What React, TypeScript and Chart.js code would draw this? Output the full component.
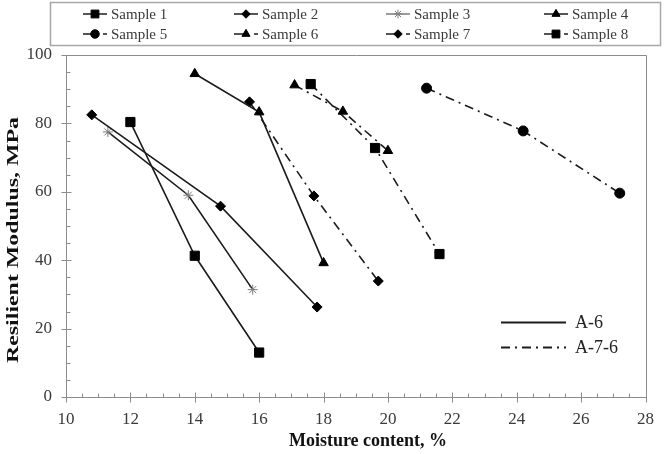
import React, { useEffect, useRef } from 'react';
import { Chart, registerables } from 'chart.js';
import { drawPoint } from 'chart.js/helpers';

Chart.register(...registerables);

// ---- data ----
const xMin = 10;
const xMax = 28;
const xStep = 2;
const yMin = 0;
const yMax = 100;
const yStep = 20;

const sampleNames = ['Sample 1', 'Sample 2', 'Sample 3', 'Sample 4', 'Sample 5', 'Sample 6', 'Sample 7', 'Sample 8'];
const soilClasses = ['A-6', 'A-7-6'];

const sample1X = [12.0, 14.0, 16.0];
const sample1Y = [80.4, 41.3, 13.0];
const sample2X = [10.8, 14.8, 17.8];
const sample2Y = [82.5, 55.8, 26.3];
const sample3X = [11.3, 13.8, 15.8];
const sample3Y = [77.5, 59.0, 31.4];
const sample4X = [14.0, 16.0, 18.0];
const sample4Y = [94.5, 83.3, 39.2];
const sample5X = [21.2, 24.2, 27.2];
const sample5Y = [90.3, 77.8, 59.6];
const sample6X = [17.1, 18.6, 20.0];
const sample6Y = [91.2, 83.5, 72.0];
const sample7X = [15.7, 17.7, 19.7];
const sample7Y = [86.3, 58.8, 33.9];
const sample8X = [17.6, 19.6, 21.6];
const sample8Y = [91.5, 72.8, 41.8];

const allX = [sample1X, sample2X, sample3X, sample4X, sample5X, sample6X, sample7X, sample8X];
const allY = [sample1Y, sample2Y, sample3Y, sample4Y, sample5Y, sample6Y, sample7Y, sample8Y];
const sampleClass = [0, 0, 0, 0, 1, 1, 1, 1];

// ---- styles ----
const FONT = '"Liberation Serif", "Times New Roman", serif';
const LINE = '#1c1c1c';
const AXIS = '#8c8c8c';
const TEXT = '#3a3a3a';
const DASHDOT = [9, 5, 2, 5];

const markerStyle = [
  { pointStyle: 'rect', radius: 6.5, color: '#000000' },
  { pointStyle: 'rectRot', radius: 5, color: '#000000' },
  { pointStyle: 'star', radius: 5, color: '#7a7a7a' },
  { pointStyle: 'triangle', radius: 5.5, color: '#000000' },
  { pointStyle: 'circle', radius: 5, color: '#000000' },
  { pointStyle: 'triangle', radius: 5.5, color: '#000000' },
  { pointStyle: 'rectRot', radius: 5, color: '#000000' },
  { pointStyle: 'rect', radius: 6.5, color: '#000000' },
];

const decorPlugin = {
  id: 'decor',
  beforeDatasetsDraw(chart: any) {
    const ctx = chart.ctx as CanvasRenderingContext2D;
    const { left, right, top, bottom } = chart.chartArea;
    const xs = chart.scales.x;
    const ys = chart.scales.y;
    ctx.save();
    ctx.strokeStyle = AXIS;
    ctx.lineWidth = 1;
    const L = Math.round(left) + 0.5;
    const R = Math.round(right) + 0.5;
    const T = Math.round(top) + 0.5;
    const B = Math.round(bottom) + 0.5;
    ctx.beginPath();
    ctx.rect(L, T, R - L, B - T);
    ctx.stroke();
    ctx.beginPath();
    for (let v = xMin; v <= xMax + 1e-9; v += 0.5) {
      const px = Math.round(xs.getPixelForValue(v)) + 0.5;
      const major = Math.abs(v / xStep - Math.round(v / xStep)) < 1e-6;
      if (major) {
        ctx.moveTo(px, B - 5);
        ctx.lineTo(px, B + 5);
      } else {
        ctx.moveTo(px, B - 4);
        ctx.lineTo(px, B);
      }
    }
    for (let v = yMin; v <= yMax + 1e-9; v += 5) {
      const py = Math.round(ys.getPixelForValue(v)) + 0.5;
      const major = Math.abs(v / yStep - Math.round(v / yStep)) < 1e-6;
      if (major) {
        ctx.moveTo(L - 5, py);
        ctx.lineTo(L + 5, py);
      } else {
        ctx.moveTo(L, py);
        ctx.lineTo(L + 4, py);
      }
    }
    ctx.stroke();
    ctx.restore();
  },
  afterDraw(chart: any) {
    const ctx = chart.ctx as CanvasRenderingContext2D;
    const { left, right, top, bottom } = chart.chartArea;
    ctx.save();

    // axis titles
    ctx.fillStyle = '#111111';
    ctx.font = 'bold 18px ' + FONT;
    ctx.textAlign = 'center';
    ctx.textBaseline = 'middle';
    ctx.fillText('Moisture content, %', 368, 441);

    ctx.save();
    ctx.font = 'bold 17px ' + FONT;
    const yt = 'Resilient Modulus, MPa';
    const w = ctx.measureText(yt).width;
    ctx.translate(14, 240);
    ctx.rotate(-Math.PI / 2);
    ctx.scale(246 / w, 1);
    ctx.fillText(yt, 0, 0);
    ctx.restore();

    // top legend box
    ctx.strokeStyle = '#a8a8a8';
    ctx.lineWidth = 1.5;
    ctx.strokeRect(50.5, 2.5, 610, 43);
    const colX = [95, 246, 398, 556];
    const rowY = [14, 34];
    ctx.font = '15px ' + FONT;
    ctx.textAlign = 'left';
    ctx.textBaseline = 'middle';
    for (let i = 0; i < sampleNames.length; i++) {
      const cx = colX[i % 4];
      const cy = rowY[Math.floor(i / 4)];
      const ms = markerStyle[i];
      ctx.strokeStyle = ms.color === '#000000' ? LINE : ms.color;
      ctx.lineWidth = 1.5;
      ctx.setLineDash([]);
      ctx.beginPath();
      ctx.moveTo(cx - 12, cy);
      if (sampleClass[i] === 0) {
        ctx.lineTo(cx + 12, cy);
      } else {
        ctx.lineTo(cx, cy);
        ctx.moveTo(cx + 8, cy);
        ctx.lineTo(cx + 12, cy);
      }
      ctx.stroke();
      ctx.fillStyle = ms.color;
      ctx.strokeStyle = ms.color;
      ctx.lineWidth = 1;
      drawPoint(ctx, { pointStyle: ms.pointStyle as any, radius: ms.radius * 0.85, rotation: 0, borderWidth: 1 }, cx, cy);
      ctx.fillStyle = TEXT;
      ctx.fillText(sampleNames[i], cx + 16, cy + 1);
    }

    // soil class legend
    ctx.strokeStyle = LINE;
    ctx.lineWidth = 1.8;
    ctx.setLineDash([]);
    ctx.beginPath();
    ctx.moveTo(501, 322.5);
    ctx.lineTo(566, 322.5);
    ctx.stroke();
    ctx.setLineDash(DASHDOT);
    ctx.beginPath();
    ctx.moveTo(501, 347.5);
    ctx.lineTo(566, 347.5);
    ctx.stroke();
    ctx.setLineDash([]);
    ctx.fillStyle = '#222222';
    ctx.font = '18px ' + FONT;
    ctx.fillText(soilClasses[0], 575, 323);
    ctx.fillText(soilClasses[1], 575, 348);
    ctx.restore();
  },
};

export default function App() {
  const ref = useRef<HTMLCanvasElement>(null);
  useEffect(() => {
    document.body.style.margin = '0';
    const canvas = ref.current!;
    const datasets = allX.map((xs, i) => ({
      label: sampleNames[i],
      data: xs.map((x, j) => ({ x, y: allY[i][j] })),
      borderColor: LINE,
      borderWidth: 1.6,
      borderDash: sampleClass[i] === 1 ? DASHDOT : [],
      backgroundColor: markerStyle[i].color,
      pointBackgroundColor: markerStyle[i].color,
      pointBorderColor: markerStyle[i].color,
      pointBorderWidth: 1,
      pointStyle: markerStyle[i].pointStyle,
      pointRadius: markerStyle[i].radius,
      fill: false,
      tension: 0,
    }));
    const chart = new Chart(canvas, {
      type: 'line',
      data: { datasets },
      plugins: [decorPlugin],
      options: {
        animation: false,
        responsive: false,
        devicePixelRatio: 1,
        layout: { padding: { left: 0, top: 55, right: 7, bottom: 0 } },
        plugins: { legend: { display: false }, tooltip: { enabled: false } },
        scales: {
          x: {
            type: 'linear',
            min: xMin,
            max: xMax,
            grid: { display: false, drawTicks: false },
            border: { display: false },
            ticks: { stepSize: xStep, padding: 12, color: TEXT, font: { family: FONT, size: 17 }, maxRotation: 0 },
            afterFit: (s: any) => { s.height = 57; },
          },
          y: {
            type: 'linear',
            min: yMin,
            max: yMax,
            grid: { display: false, drawTicks: false },
            border: { display: false },
            ticks: { stepSize: yStep, padding: 14, color: TEXT, font: { family: FONT, size: 17 } },
            afterFit: (s: any) => { s.width = 66; },
          },
        },
      },
    } as any);
    return () => chart.destroy();
  }, []);
  return (
    <div style={{ width: 666, height: 454, overflow: 'hidden' }}>
      <canvas ref={ref} width={666} height={454} style={{ display: 'block' }} />
    </div>
  );
}
